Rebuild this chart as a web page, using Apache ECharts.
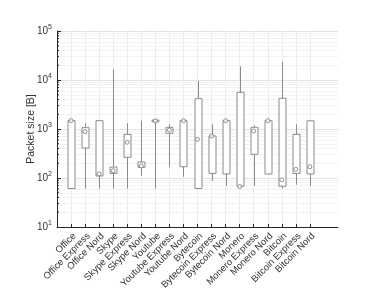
<!DOCTYPE html>
<html><head><meta charset="utf-8">
<script src="https://cdn.jsdelivr.net/npm/echarts@6/dist/echarts.min.js"></script>
<style>html,body{margin:0;padding:0;background:#fff}#c{width:382px;height:295px}</style>
</head><body><div id="c"></div>
<script>
var categories = ['Office','Office Express','Office Nord','Skype','Skype Express','Skype Nord','Youtube','Youtube Express','Youtube Nord','Bytecoin','Bytecoin Express','Bytecoin Nord','Monero','Monero Express','Monero Nord','Bitcoin','Bitcoin Express','Bitcoin Nord'];
var whiskerLow  = [61, 61, 61, 61, 61, 110, 61, 170, 106, 61, 88, 69, 67, 69, 121, 61, 73, 69];
var q1          = [61, 409, 110, 124, 264, 165, 1410, 817, 170, 61, 124, 121, 68, 304, 121, 68, 124, 121];
var median      = [1480, 883, 121, 141, 535, 176, 1460, 955, 1480, 615, 720, 1480, 67, 910, 1480, 92, 150, 170];
var q3          = [1480, 1064, 1480, 167, 778, 212, 1520, 1082, 1480, 4160, 720, 1480, 5600, 1082, 1480, 4230, 778, 1470];
var whiskerHigh = [1480, 1306, 1480, 16500, 1306, 1480, 1520, 1245, 1480, 9550, 1245, 1480, 19000, 1189, 1480, 23300, 1245, 1470];
var yTicks = [10, 100, 1000, 10000, 100000];

var xCats = [''].concat(categories, ['', '']);
var minorVals = [];
yTicks.slice(0, 4).forEach(function (d) { for (var k = 2; k <= 9; k++) minorVals.push(d * k); });

var boxData = categories.map(function (c, i) { return [i + 1, whiskerLow[i], q1[i], q3[i], whiskerHigh[i]]; });
var medData = categories.map(function (c, i) { return [i + 1, median[i]]; });

var FONT = 'Liberation Sans';
var TXT = '#333333';
var chart = echarts.init(document.getElementById('c'), null, {renderer: 'canvas'});
chart.setOption({
  animation: false,
  backgroundColor: '#fff',
  grid: {left: 57, right: 44, top: 31, bottom: 68, containLabel: false},
  xAxis: {
    type: 'category', data: xCats, boundaryGap: false,
    axisLine: {lineStyle: {color: '#262626', width: 1}},
    axisTick: {inside: true, length: 3, interval: function (i) { return i >= 1 && i <= 18; }, lineStyle: {color: '#262626'}},
    axisLabel: {interval: 0, rotate: 45, fontSize: 9.5, color: TXT, fontFamily: FONT, margin: 4, verticalAlign: 'top'},
    splitLine: {show: true, interval: function (i) { return i >= 1 && i <= 18; }, lineStyle: {color: '#ebebeb', width: 1}}
  },
  yAxis: {
    type: 'log', logBase: 10, min: 10, max: 100000,
    name: 'Packet size [B]', nameLocation: 'middle', nameGap: 20, nameMoveOverlap: false,
    nameTextStyle: {fontSize: 10.5, color: TXT, fontFamily: FONT},
    axisLine: {show: true, lineStyle: {color: '#262626', width: 1}},
    axisTick: {show: true, inside: true, length: 4, lineStyle: {color: '#262626'}},
    axisLabel: {
      fontSize: 10, color: TXT, fontFamily: FONT, margin: 5,
      formatter: function (v) { return '10{s|' + Math.round(Math.log10(v)) + '}'; },
      rich: {s: {fontSize: 7, fontFamily: FONT, color: TXT, padding: [0, 0, 7, 0]}}
    },
    splitLine: {show: true, lineStyle: {color: '#e3e3e3', width: 1}}
  },
  series: [
    {
      type: 'line', data: [], silent: true, z: 0,
      markLine: {silent: true, z: 0, symbol: ['none', 'none'], label: {show: false},
        lineStyle: {color: '#f2f2f2', width: 1, type: 'solid'},
        data: minorVals.map(function (v) { return {yAxis: v}; })}
    },
    {
      type: 'custom', silent: true, z: 3, data: minorVals.map(function (v) { return [0, v]; }),
      renderItem: function (params, api) {
        var p = api.coord([0, api.value(1)]);
        return {type: 'line', shape: {x1: p[0], y1: p[1], x2: p[0] + 2, y2: p[1]}, style: {stroke: '#262626', lineWidth: 1}};
      }
    },
    {
      type: 'custom', data: boxData, z: 4,
      renderItem: function (params, api) {
        var x = api.value(0);
        var pLow = api.coord([x, api.value(1)]);
        var pQ1 = api.coord([x, api.value(2)]);
        var pQ3 = api.coord([x, api.value(3)]);
        var pHigh = api.coord([x, api.value(4)]);
        var cx = Math.round(pLow[0]) + 0.5;
        var w = 7;
        var col = '#8a8a8a';
        return {type: 'group', children: [
          {type: 'line', shape: {x1: cx, y1: pHigh[1], x2: cx, y2: pQ3[1]}, style: {stroke: col, lineWidth: 1}},
          {type: 'line', shape: {x1: cx, y1: pQ1[1], x2: cx, y2: pLow[1]}, style: {stroke: col, lineWidth: 1}},
          {type: 'rect', shape: {x: cx - w / 2, y: pQ3[1], width: w, height: Math.max(pQ1[1] - pQ3[1], 1)}, style: {fill: '#ffffff', stroke: col, lineWidth: 1}}
        ]};
      }
    },
    {
      type: 'scatter', data: medData, symbol: 'circle', symbolSize: 4, z: 5,
      itemStyle: {color: '#fff', borderColor: '#777', borderWidth: 1}
    }
  ]
});
</script></body></html>
